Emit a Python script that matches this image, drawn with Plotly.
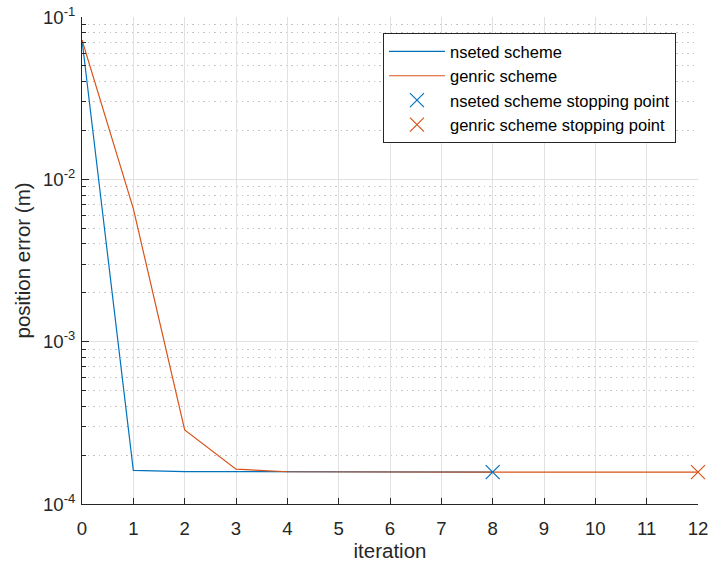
import plotly.graph_objects as go

# Position error per iteration for the two schemes
nested_iter = [0, 1, 2, 3, 4, 5, 6, 7, 8]
nested_err = [0.0722, 1.61e-4, 1.585e-4, 1.58e-4, 1.576e-4, 1.574e-4, 1.572e-4, 1.571e-4, 1.57e-4]

generic_iter = [0, 1, 2, 3, 4, 5, 6, 7, 8, 9, 10, 11, 12]
generic_err = [0.0722, 6.6e-3, 2.86e-4, 1.64e-4, 1.58e-4, 1.575e-4, 1.573e-4,
               1.572e-4, 1.571e-4, 1.57e-4, 1.57e-4, 1.57e-4, 1.57e-4]

# Stopping points
nested_stop_iter = [8]
nested_stop_err = [1.57e-4]
generic_stop_iter = [12]
generic_stop_err = [1.57e-4]

# Decade ticks on the error axis
y_tick_vals = [1e-4, 1e-3, 1e-2, 1e-1]
y_tick_text = ["10<sup>-4</sup>", "10<sup>-3</sup>", "10<sup>-2</sup>", "10<sup>-1</sup>"]

names = ["nseted scheme", "genric scheme",
         "nseted scheme stopping point", "genric scheme stopping point"]
x_title = "iteration"
y_title = "position error (m)"

BLUE = "#0072BD"
ORANGE = "#D95319"
INK = "#262626"
FONT = "Liberation Sans, Arial, Helvetica, sans-serif"

fig = go.Figure()
fig.add_trace(go.Scatter(x=nested_iter, y=nested_err, mode="lines", name=names[0],
                         line=dict(color=BLUE, width=1.2)))
fig.add_trace(go.Scatter(x=generic_iter, y=generic_err, mode="lines", name=names[1],
                         line=dict(color=ORANGE, width=1.2)))
fig.add_trace(go.Scatter(x=nested_stop_iter, y=nested_stop_err, mode="markers", name=names[2],
                         cliponaxis=False,
                         marker=dict(symbol="x-thin", size=14, color=BLUE,
                                     line=dict(color=BLUE, width=1.2))))
fig.add_trace(go.Scatter(x=generic_stop_iter, y=generic_stop_err, mode="markers", name=names[3],
                         cliponaxis=False,
                         marker=dict(symbol="x-thin", size=14, color=ORANGE,
                                     line=dict(color=ORANGE, width=1.2))))

fig.update_layout(
    width=710, height=567,
    margin=dict(l=82, r=12, t=17, b=63),
    paper_bgcolor="white", plot_bgcolor="white",
    font=dict(family=FONT, size=18.6, color=INK),
    legend=dict(x=0.4886, y=0.967, xanchor="left", yanchor="top",
                bgcolor="white", bordercolor=INK, borderwidth=1,
                font=dict(size=16.5, color="black"), itemwidth=56,
                tracegroupgap=0),
    # y-axis title placed as a rotated annotation left of the tick labels
    annotations=[dict(text=y_title, textangle=-90, xref="paper", yref="paper",
                      x=-0.0958, y=0.5, xanchor="center", yanchor="middle",
                      showarrow=False, font=dict(size=20.5, color=INK))],
)

fig.update_xaxes(
    range=[0, 12], dtick=1, tick0=0, automargin=False,
    showline=True, linecolor=INK, linewidth=1,
    ticks="inside", ticklen=6, tickcolor=INK, ticklabelstandoff=8,
    showgrid=True, gridcolor="#e1e1e1", gridwidth=1,
    zeroline=False, mirror=False,
    title=dict(text=x_title, font=dict(size=20.5), standoff=4),
    tickfont=dict(size=18.6),
)

fig.update_yaxes(
    type="log", range=[-4, -1], automargin=False,
    tickmode="array", tickvals=y_tick_vals, ticktext=y_tick_text,
    showline=True, linecolor=INK, linewidth=1,
    ticks="inside", ticklen=7, tickcolor=INK, ticklabelstandoff=2,
    showgrid=True, gridcolor="#e1e1e1", gridwidth=1,
    zeroline=False, mirror=False,
    minor=dict(dtick="D1", showgrid=True, griddash="1.5px,4px", gridcolor="#c4c4c4",
               ticks="inside", ticklen=4, tickcolor=INK),
    tickfont=dict(size=18.6),
)

fig.write_html("out.html")
